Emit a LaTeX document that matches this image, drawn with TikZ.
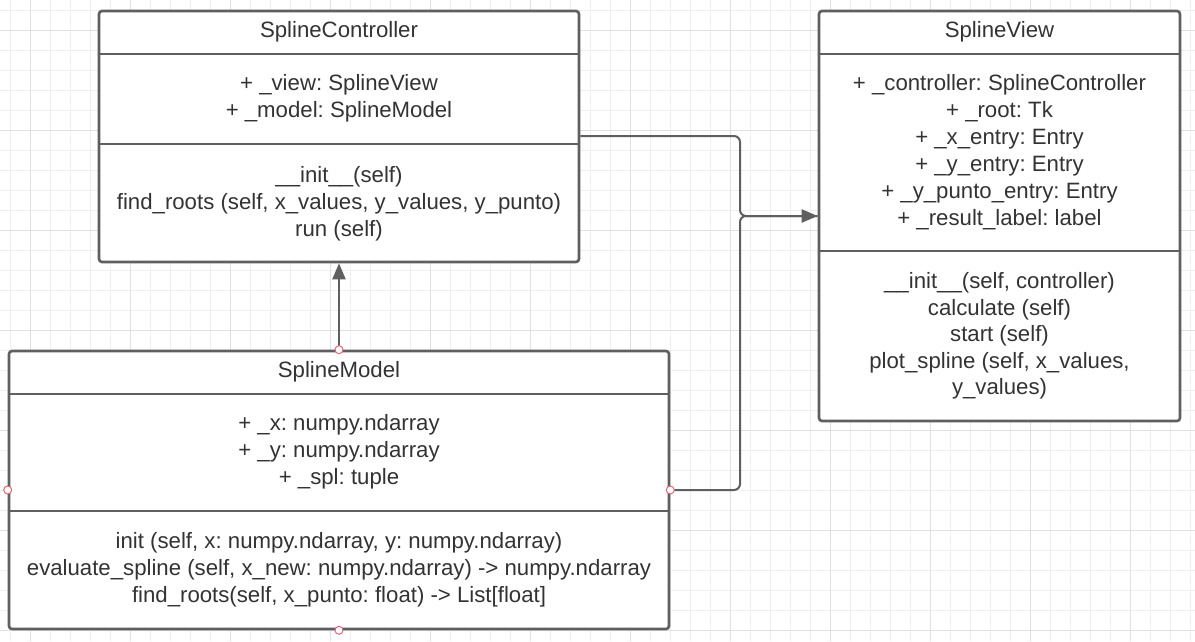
\documentclass[tikz,border=0pt]{standalone}
\usepackage{fontspec}
\setmainfont{Liberation Sans}
\usetikzlibrary{arrows.meta}
\frenchspacing
\definecolor{gridminor}{HTML}{EFEFEF}
\definecolor{gridmajor}{HTML}{E0E0E0}
\definecolor{edge}{HTML}{5F5F5F}
\definecolor{txt}{HTML}{333333}
\definecolor{handlered}{HTML}{E36472}
\tikzset{
  umlbox/.style={draw=edge, line width=2.6pt, fill=white, rounded corners=3pt, inner sep=0pt, rectangle},
  divider/.style={draw=edge, line width=2.6pt},
  conn/.style={draw=edge, line width=2pt},
  tip/.style={-{Triangle[length=16pt,width=13pt]}},
  umltext/.style={text=txt, align=center, inner sep=0pt, font=\fontsize{22.2pt}{27pt}\selectfont},
  handle/.style={circle, draw=handlered, fill=white, line width=1pt, minimum size=8pt, inner sep=0pt}
}
\begin{document}
\begin{tikzpicture}[x=1pt,y=-1pt]
\useasboundingbox (0,0) rectangle (1195,641);
\fill[white] (0,0) rectangle (1195,641);
% grid
\foreach \x in {10,30,...,1190} \draw[gridminor, line width=1pt] (\x,0) -- (\x,641);
\foreach \y in {10,30,...,640} \draw[gridminor, line width=1pt] (0,\y) -- (1195,\y);
\foreach \x in {30,130,...,1130} \draw[gridmajor, line width=1pt] (\x,0) -- (\x,641);
\foreach \y in {30,130,...,630} \draw[gridmajor, line width=1pt] (0,\y) -- (1195,\y);

% boxes
\node[umlbox, minimum width=480pt, minimum height=251pt] (ctrl) at (339,136.5) {};
\node[umlbox, minimum width=361pt, minimum height=410pt] (view) at (999.5,216) {};
\node[umlbox, minimum width=660pt, minimum height=278pt] (model) at (339,490) {};

% dividers
\draw[divider] (ctrl.west |- 0,54) -- (ctrl.east |- 0,54);
\draw[divider] (ctrl.west |- 0,144) -- (ctrl.east |- 0,144);
\draw[divider] (view.west |- 0,54) -- (view.east |- 0,54);
\draw[divider] (view.west |- 0,251) -- (view.east |- 0,251);
\draw[divider] (model.west |- 0,394) -- (model.east |- 0,394);
\draw[divider] (model.west |- 0,511) -- (model.east |- 0,511);

% texts
\node[umltext] (ctrlT) at (339,32) {SplineController};
\node[umltext] (ctrlA) at (339,98) {+ \_view: SplineView\\+ \_model: SplineModel};
\node[umltext] (ctrlM) at (339,203.5) {\_\_init\_\_(self)\\find\_roots (self, x\_values, y\_values, y\_punto)\\run (self)};

\node[umltext] (viewT) at (999.5,32) {SplineView};
\node[umltext] (viewA) at (999.5,152) {+ \_controller: SplineController\\+ \_root: Tk\\+ \_x\_entry: Entry\\+ \_y\_entry: Entry\\+ \_y\_punto\_entry: Entry\\+ \_result\_label: label};
\node[umltext, font=\fontsize{22.2pt}{26.4pt}\selectfont] (viewM) at (999.5,336) {\_\_init\_\_(self, controller)\\calculate (self)\\start (self)\\plot\_spline (self, x\_values,\\y\_values)};

\node[umltext] (modelT) at (339,372) {SplineModel};
\node[umltext] (modelA) at (339,451.5) {+ \_x: numpy.ndarray\\+ \_y: numpy.ndarray\\+ \_spl: tuple};
\node[umltext] (modelM) at (339,570) {init (self, x: numpy.ndarray, y: numpy.ndarray)\\evaluate\_spline (self, x\_new: numpy.ndarray) -> numpy.ndarray\\find\_roots(self, x\_punto: float) -> List[float]};

% connectors
\coordinate (j) at (740,216);
\draw[conn, tip] (model.north) -- (ctrl.south);
\draw[conn, rounded corners=6pt] (model.east) -| (j) -- (view.west);
\draw[conn, rounded corners=6pt, tip] (ctrl.east |- 0,136) -| (j) -- (view.west);

% selection handles
\node[handle] (h1) at (model.north) {};
\node[handle] (h2) at (model.south) {};
\node[handle] (h3) at (model.west) {};
\node[handle] (h4) at (model.east) {};
\end{tikzpicture}
\end{document}
